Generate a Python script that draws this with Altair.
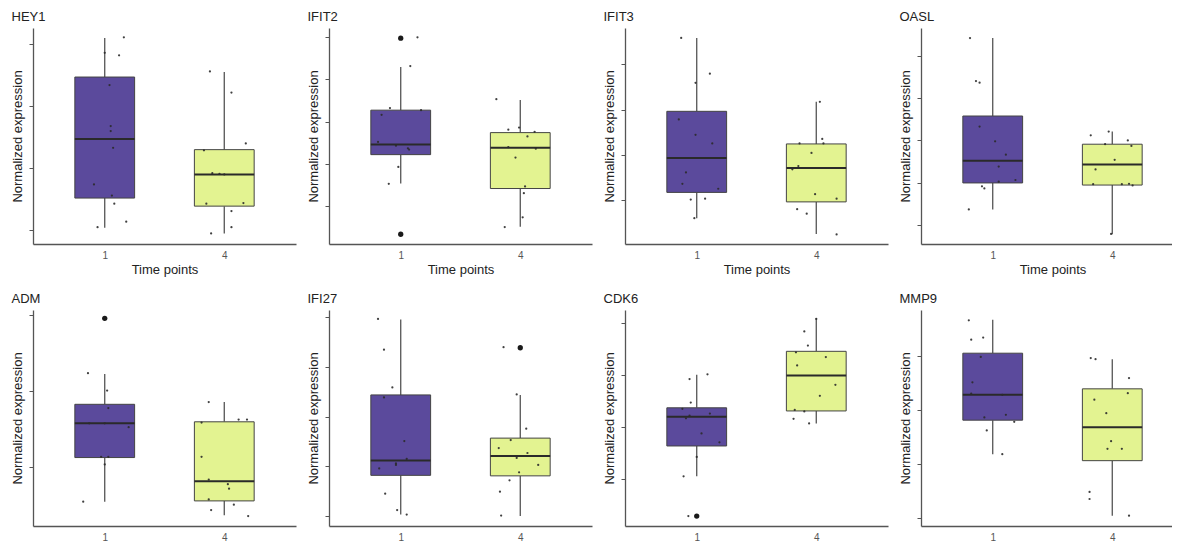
import altair as alt
import pandas as pd

GENES = ["HEY1", "IFIT2", "IFIT3", "OASL", "ADM", "IFI27", "CDK6", "MMP9"]
TIME_LABELS = ["1", "4"]

Y_MIN = [0.78, 0.11, 0.03, 0.54, 0.22, 0.80, 0.11, 0.85]
Y_MAX = [4.26, 5.21, 4.80, 5.67, 3.06, 5.15, 4.24, 4.85]
N_TICKS = [4, 5, 4, 5, 3, 5, 4, 4]

# box statistics, time point 1
LOW_1 = [1.04, 1.54, 0.60, 1.36, 0.54, 1.03, 1.06, 2.18]
Q1_1 = [1.52, 2.22, 1.17, 1.99, 1.12, 1.82, 1.64, 2.81]
MED_1 = [2.47, 2.46, 1.93, 2.52, 1.57, 2.12, 2.20, 3.28]
Q3_1 = [3.47, 3.27, 2.96, 3.58, 1.82, 3.44, 2.37, 4.05]
HIGH_1 = [4.10, 4.29, 4.58, 5.43, 2.22, 4.96, 3.00, 4.67]
# box statistics, time point 4
LOW_4 = [0.95, 0.52, 0.25, 0.77, 0.36, 1.00, 2.07, 1.04]
Q1_4 = [1.39, 1.42, 0.96, 1.94, 0.55, 1.81, 2.31, 2.06]
MED_4 = [1.90, 2.38, 1.71, 2.43, 0.81, 2.21, 2.99, 2.68]
Q3_4 = [2.30, 2.74, 2.24, 2.91, 1.59, 2.57, 3.45, 3.39]
HIGH_4 = [3.55, 3.51, 3.17, 3.21, 1.85, 3.44, 4.08, 3.94]

OUT_GENE = ["IFIT2", "IFIT2", "ADM", "IFI27", "CDK6"]
OUT_TIME = ["1", "1", "1", "4", "1"]
OUT_VAL = [4.97, 0.34, 2.95, 4.39, 0.30]

# individual samples (value, horizontal jitter in category units)
HEY1_Y1 = [4.11, 3.86, 3.82, 3.34, 2.68, 2.60, 2.33, 1.74, 1.56, 1.43, 1.14, 1.05]
HEY1_J1 = [0.16, 0.00, 0.12, 0.04, 0.05, 0.05, 0.07, -0.09, 0.06, 0.08, 0.18, -0.06]
HEY1_Y4 = [3.56, 3.22, 2.40, 2.29, 1.92, 1.91, 1.90, 1.43, 1.44, 1.31, 1.05, 0.95]
HEY1_J4 = [-0.12, 0.06, 0.18, -0.17, -0.10, -0.04, 0.00, -0.15, 0.16, 0.06, 0.06, -0.11]

IFIT2_Y1 = [4.99, 4.31, 3.32, 3.27, 3.16, 2.52, 2.43, 2.37, 2.34, 1.93, 1.53, 0.34]
IFIT2_J1 = [0.14, 0.08, -0.09, 0.17, -0.16, -0.19, -0.04, 0.06, 0.07, -0.02, -0.10, 0.00]
IFIT2_Y4 = [3.53, 2.81, 2.86, 2.76, 2.65, 2.40, 2.36, 2.15, 1.47, 1.31, 0.74, 0.51]
IFIT2_J4 = [-0.20, -0.10, -0.01, 0.12, 0.06, -0.10, 0.13, -0.04, 0.04, 0.03, 0.02, -0.13]

IFIT3_Y1 = [4.58, 3.79, 3.59, 2.78, 2.44, 2.25, 1.61, 1.36, 1.25, 1.01, 1.03, 0.60]
IFIT3_J1 = [-0.13, 0.11, -0.01, -0.15, -0.01, 0.13, -0.09, -0.12, 0.18, -0.05, 0.07, -0.02]
IFIT3_Y4 = [3.17, 2.35, 2.25, 2.25, 2.04, 1.75, 1.68, 1.13, 1.03, 0.80, 0.70, 0.24]
IFIT3_J4 = [0.03, 0.05, -0.14, 0.06, -0.04, -0.15, -0.20, -0.01, 0.17, -0.16, -0.08, 0.17]

OASL_Y1 = [5.43, 4.41, 4.37, 3.33, 2.98, 2.66, 2.38, 2.02, 2.06, 1.91, 1.86, 1.36]
OASL_J1 = [-0.19, -0.14, -0.11, -0.11, 0.02, 0.11, 0.05, 0.05, 0.19, -0.09, -0.07, -0.20]
OASL_Y4 = [3.21, 3.12, 3.00, 2.91, 2.87, 2.54, 2.31, 1.96, 1.96, 1.97, 1.93, 0.78]
OASL_J4 = [-0.03, -0.18, 0.13, -0.06, 0.16, 0.02, -0.14, -0.16, 0.08, 0.14, 0.17, -0.01]

ADM_Y1 = [2.95, 2.23, 2.00, 1.77, 1.57, 1.57, 1.52, 1.13, 1.13, 1.03, 0.54]
ADM_J1 = [0.00, -0.14, 0.02, 0.03, -0.13, 0.00, 0.20, -0.03, 0.03, 0.00, -0.18]
ADM_Y4 = [1.85, 1.58, 1.62, 1.62, 1.13, 0.83, 0.77, 0.71, 0.57, 0.50, 0.43, 0.35]
ADM_J4 = [-0.13, -0.19, 0.12, 0.19, -0.19, -0.13, 0.03, 0.04, -0.13, 0.08, -0.11, 0.20]

IFI27_Y1 = [4.97, 4.35, 3.59, 3.39, 2.51, 2.15, 2.06, 2.03, 1.96, 1.45, 1.12, 1.03]
IFI27_J1 = [-0.19, -0.14, -0.07, -0.14, 0.03, 0.05, -0.04, -0.04, -0.18, -0.13, -0.03, 0.05]
IFI27_Y4 = [4.40, 3.45, 2.76, 2.53, 2.37, 2.27, 2.17, 2.03, 1.88, 1.72, 1.49, 1.01]
IFI27_J4 = [-0.14, -0.03, 0.05, -0.08, -0.18, 0.06, -0.03, 0.15, -0.01, -0.09, -0.17, -0.16]

CDK6_Y1 = [3.01, 2.92, 2.47, 2.35, 2.22, 2.17, 2.26, 1.88, 1.71, 1.43, 1.06, 0.30]
CDK6_J1 = [0.09, -0.06, -0.05, -0.12, -0.06, -0.09, 0.11, 0.04, 0.19, 0.00, -0.11, -0.07]
CDK6_Y4 = [4.07, 3.83, 3.56, 3.43, 3.34, 3.18, 2.81, 2.60, 2.33, 2.30, 2.16, 2.07]
CDK6_J4 = [0.00, -0.10, -0.07, -0.17, 0.08, -0.16, 0.16, 0.03, -0.18, -0.10, -0.19, -0.06]

MMP9_Y1 = [4.66, 4.30, 4.34, 3.98, 3.51, 3.30, 3.28, 2.86, 2.91, 2.78, 2.62, 2.18]
MMP9_J1 = [-0.20, -0.18, -0.08, -0.10, -0.17, -0.18, 0.08, -0.07, 0.11, 0.18, -0.05, 0.08]
MMP9_Y4 = [3.96, 3.94, 3.59, 3.31, 3.19, 2.94, 2.42, 2.28, 2.28, 1.48, 1.35, 1.04]
MMP9_J4 = [-0.18, -0.14, 0.14, 0.13, -0.15, -0.05, -0.01, -0.04, 0.08, -0.19, -0.19, 0.14]

SAMPLES_Y1 = [HEY1_Y1, IFIT2_Y1, IFIT3_Y1, OASL_Y1, ADM_Y1, IFI27_Y1, CDK6_Y1, MMP9_Y1]
SAMPLES_J1 = [HEY1_J1, IFIT2_J1, IFIT3_J1, OASL_J1, ADM_J1, IFI27_J1, CDK6_J1, MMP9_J1]
SAMPLES_Y4 = [HEY1_Y4, IFIT2_Y4, IFIT3_Y4, OASL_Y4, ADM_Y4, IFI27_Y4, CDK6_Y4, MMP9_Y4]
SAMPLES_J4 = [HEY1_J4, IFIT2_J4, IFIT3_J4, OASL_J4, ADM_J4, IFI27_J4, CDK6_J4, MMP9_J4]

FILL = {"1": "#5b4a9c", "4": "#e3f391"}
FONT = "Liberation Sans"
W, H = 263, 216
W_LAST = 251          # right-most panels are cut at the picture edge
X_LO, X_HI = 0.4, 2.6
HALF = 0.25


def panel(i):
    g = GENES[i]
    last = (i % 4) == 3
    width = W_LAST if last else W
    x_hi = X_LO + (X_HI - X_LO) * width / W
    box = pd.DataFrame({
        "time": TIME_LABELS,
        "pos": [1, 2],
        "lo": [LOW_1[i], LOW_4[i]],
        "q1": [Q1_1[i], Q1_4[i]],
        "med": [MED_1[i], MED_4[i]],
        "q3": [Q3_1[i], Q3_4[i]],
        "hi": [HIGH_1[i], HIGH_4[i]],
    })
    box["left"] = box["pos"] - HALF
    box["right"] = box["pos"] + HALF

    pts = pd.concat([
        pd.DataFrame({"pos": [1 + j for j in SAMPLES_J1[i]], "val": SAMPLES_Y1[i]}),
        pd.DataFrame({"pos": [2 + j for j in SAMPLES_J4[i]], "val": SAMPLES_Y4[i]}),
    ])
    outs = pd.DataFrame({
        "pos": [1 if t == "1" else 2 for gg, t in zip(OUT_GENE, OUT_TIME) if gg == g],
        "val": [v for gg, v in zip(OUT_GENE, OUT_VAL) if gg == g],
    })

    xs = alt.Scale(domain=[X_LO, x_hi], nice=False, zero=False)
    ys = alt.Scale(domain=[Y_MIN[i], Y_MAX[i]], nice=False, zero=False)
    xaxis = alt.Axis(values=[1, 2], labelExpr="datum.value == 1 ? '1' : '4'",
                     title="Time points", grid=False, ticks=False,
                     labelFontSize=10, labelColor="#555555", labelPadding=6,
                     titleFontSize=13, titleFontWeight="normal", titleColor="#222222",
                     titlePadding=3, domainColor="#555555", domainWidth=1.3,
                     labelFont=FONT, titleFont=FONT, titleX=W / 2)
    yaxis = alt.Axis(values=list(range(1, N_TICKS[i] + 1)), labels=False,
                     title="Normalized expression", grid=False, ticks=True,
                     tickSize=4, tickColor="#555555", tickWidth=1,
                     titleFontSize=13, titleFontWeight="normal", titleColor="#222222",
                     titlePadding=4, domainColor="#555555", domainWidth=1.3,
                     titleFont=FONT)

    base = alt.Chart(box)
    whisk_lo = base.mark_rule(color="#555555", strokeWidth=1.3).encode(
        x=alt.X("pos:Q", scale=xs, axis=xaxis),
        y=alt.Y("lo:Q", scale=ys, axis=yaxis),
        y2="q1:Q")
    whisk_hi = base.mark_rule(color="#555555", strokeWidth=1.3).encode(
        x=alt.X("pos:Q", scale=xs), y=alt.Y("q3:Q", scale=ys), y2="hi:Q")
    rect = base.mark_rect(stroke="#444444", strokeWidth=1).encode(
        x=alt.X("left:Q", scale=xs), x2="right:Q",
        y=alt.Y("q1:Q", scale=ys), y2="q3:Q",
        color=alt.Color("time:N", scale=alt.Scale(domain=list(FILL.keys()),
                                                   range=list(FILL.values())),
                        legend=None))
    med = base.mark_rule(color="#2a2a2a", strokeWidth=2).encode(
        x=alt.X("left:Q", scale=xs), x2="right:Q", y=alt.Y("med:Q", scale=ys))
    dots = alt.Chart(pts).mark_circle(size=5, color="#2b2b2b", opacity=0.9).encode(
        x=alt.X("pos:Q", scale=xs), y=alt.Y("val:Q", scale=ys))
    layers = [whisk_lo, whisk_hi, rect, med, dots]
    if len(outs):
        layers.append(alt.Chart(outs).mark_circle(size=28, color="#1a1a1a", opacity=1).encode(
            x=alt.X("pos:Q", scale=xs), y=alt.Y("val:Q", scale=ys)))
    return alt.layer(*layers).properties(
        width=width, height=H,
        title=alt.TitleParams(g, anchor="start", fontSize=13, fontWeight="normal",
                              color="#222222", font=FONT, offset=4))


row1 = alt.hconcat(*[panel(i) for i in range(4)], spacing=11)
row2 = alt.hconcat(*[panel(i) for i in range(4, 8)], spacing=11)
chart = alt.vconcat(row1, row2, spacing=17).properties(
    padding={"left": 3, "top": 3, "right": 0, "bottom": 0},
    background="white",
).configure_view(stroke=None)

chart.save("out.html", embed_options={"renderer": "svg", "actions": False})
